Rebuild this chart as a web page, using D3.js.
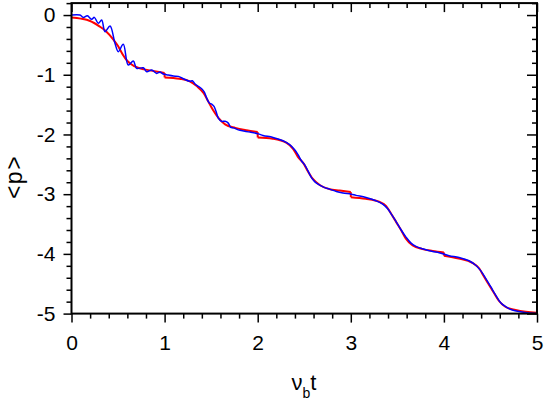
<!DOCTYPE html>
<html><head><meta charset="utf-8">
<script src="https://cdn.jsdelivr.net/npm/d3@7"></script>
<style>body{margin:0;background:#fff}svg{display:block}text{font-family:"Liberation Sans",Arial,Helvetica,sans-serif}</style>
</head><body>
<svg id="c" width="545" height="403"></svg>
<script>
// ---- data ----
const redT = [0.0,0.1,0.2,0.3,0.37,0.45,0.5,0.55,0.6,0.68,0.78,0.89,1.0,
  1.0,1.16,1.27,1.345,1.42,1.47,1.52,1.58,1.65,1.76,1.88,2.0,
  2.0,2.16,2.31,2.38,2.43,2.49,2.54,2.59,2.67,2.77,2.88,3.0,
  3.0,3.16,3.31,3.38,3.43,3.485,3.54,3.59,3.665,3.77,3.88,4.0,
  4.0,4.16,4.305,4.38,4.43,4.485,4.54,4.59,4.66,4.77,4.88,5.0];
const redP = [-0.04,-0.06,-0.10,-0.19,-0.27,-0.41,-0.52,-0.66,-0.77,-0.86,-0.91,-0.94,-0.97,
  -1.045,-1.067,-1.11,-1.19,-1.31,-1.45,-1.59,-1.725,-1.83,-1.89,-1.93,-1.96,
  -2.05,-2.07,-2.14,-2.24,-2.37,-2.48,-2.62,-2.74,-2.85,-2.915,-2.94,-2.965,
  -3.05,-3.077,-3.13,-3.2,-3.32,-3.46,-3.6,-3.74,-3.86,-3.92,-3.95,-3.975,
  -4.03,-4.077,-4.15,-4.245,-4.38,-4.52,-4.66,-4.785,-4.885,-4.94,-4.97,-4.985];
const blueT = [0.0,0.09,0.127,0.17,0.217,0.245,0.288,0.324,0.36,0.414,0.467,0.503,0.556,0.61,0.664,0.70,0.771,0.808,0.861,0.915,0.95,0.986,
  1.022,1.094,1.147,1.201,1.273,1.298,1.327,1.362,1.398,1.427,1.452,1.48,1.506,1.531,1.552,1.577,1.613,1.649,1.684,1.71,1.738,1.81,1.917,
  2.006,2.057,2.164,2.272,2.343,2.397,2.433,2.469,2.505,2.54,2.576,2.612,2.666,2.72,2.773,2.845,2.916,
  3.005,3.056,3.163,3.27,3.343,3.396,3.45,3.485,3.539,3.593,3.647,3.70,3.772,3.88,3.948,
  4.055,4.162,4.27,4.342,4.395,4.449,4.503,4.556,4.61,4.664,4.735,4.825,4.914,5.0];
const blueP = [0.0,0.0,-0.039,-0.012,-0.072,-0.039,-0.139,-0.084,-0.28,-0.184,-0.474,-0.614,-0.49,-0.838,-0.77,-0.893,-0.883,-0.95,-0.921,-0.977,-0.955,-0.988,
  -1.0,-1.022,-1.027,-1.067,-1.11,-1.10,-1.156,-1.195,-1.234,-1.29,-1.39,-1.474,-1.49,-1.53,-1.613,-1.725,-1.78,-1.78,-1.81,-1.88,-1.89,-1.93,-1.96,
  -1.99,-2.016,-2.05,-2.105,-2.17,-2.256,-2.34,-2.44,-2.51,-2.61,-2.72,-2.79,-2.85,-2.89,-2.915,-2.955,-2.98,
  -3.0,-3.02,-3.054,-3.11,-3.166,-3.244,-3.37,-3.455,-3.596,-3.72,-3.82,-3.875,-3.915,-3.96,-3.98,
  -4.03,-4.06,-4.115,-4.19,-4.28,-4.41,-4.55,-4.69,-4.82,-4.885,-4.94,-4.97,-4.99,-5.0];
const xMajor = [0,1,2,3,4,5];
const yMajor = [0,-1,-2,-3,-4,-5];
const xDomain = [0,5];
const yDomain = [-5,0.2];

// ---- drawing ----
const svg = d3.select("#c");
const L = 71.5, R = 537, T = 3.1, B = 313.6;
const x = d3.scaleLinear().domain(xDomain).range([L,R]);
const y = d3.scaleLinear().domain(yDomain).range([B,T]);
const xMinor = d3.range(0,5.0001,0.2).map(v=>+v.toFixed(1)).filter(v=>!xMajor.includes(v));
const yMinor = d3.range(-5,0.2001,0.2).map(v=>+v.toFixed(1)).filter(v=>!yMajor.includes(v));

function style(g, w){ g.select(".domain").remove(); g.selectAll(".tick line").attr("stroke","#000").attr("stroke-width",w); }

// data lines
const redLine = d3.line().x(d=>x(d[0])).y(d=>y(d[1])).curve(d3.curveMonotoneX);
const blueLine = d3.line().x(d=>x(d[0])).y(d=>y(d[1])).curve(d3.curveCatmullRom.alpha(0.5));
const redPts = redT.map((t,i)=>[t,redP[i]]);
const segs = []; let cur = [];
redPts.forEach((p,i)=>{ if(i>0 && p[0]===redPts[i-1][0]){ segs.push(cur); cur=[]; } cur.push(p); });
segs.push(cur);
segs.forEach((s,i)=>{
  svg.append("path").attr("d",redLine(s)).attr("fill","none").attr("stroke","#ff0000").attr("stroke-width",2);
  if(i>0){ const a=segs[i-1][segs[i-1].length-1], b=s[0];
    svg.append("line").attr("x1",x(a[0])).attr("x2",x(b[0])).attr("y1",y(a[1])).attr("y2",y(b[1])).attr("stroke","#ff0000").attr("stroke-width",2); }
});
svg.append("path").attr("d",blueLine(blueT.map((t,i)=>[t,blueP[i]]))).attr("fill","none").attr("stroke","#0000ff").attr("stroke-width",1.5);

// axes
const gb = svg.append("g").attr("transform",`translate(0,${B})`);
gb.append("g").call(d3.axisBottom(x).tickValues(xMinor).tickSize(5).tickFormat("")).call(g=>style(g,1.5));
gb.append("g").call(d3.axisBottom(x).tickValues(xMajor).tickSize(9).tickPadding(12).tickFormat(d=>String(d))).call(g=>style(g,1.5))
  .selectAll("text").attr("font-size",21).attr("fill","#000").attr("dy","0.71em");
const gt = svg.append("g").attr("transform",`translate(0,${T})`);
gt.append("g").call(d3.axisTop(x).tickValues(xMinor).tickSize(-5).tickFormat("")).call(g=>style(g,1.5));
gt.append("g").call(d3.axisTop(x).tickValues(xMajor).tickSize(-9).tickFormat("")).call(g=>style(g,1.5));
const gl = svg.append("g").attr("transform",`translate(${L},0)`);
gl.append("g").call(d3.axisLeft(y).tickValues(yMinor).tickSize(5).tickFormat("")).call(g=>style(g,1.5));
gl.append("g").call(d3.axisLeft(y).tickValues(yMajor).tickSize(8).tickPadding(8).tickFormat(d=>String(d))).call(g=>style(g,1.5))
  .selectAll("text").attr("font-size",21).attr("fill","#000");
const gr = svg.append("g").attr("transform",`translate(${R},0)`);
gr.append("g").call(d3.axisRight(y).tickValues(yMinor).tickSize(-5).tickFormat("")).call(g=>style(g,1.5));
gr.append("g").call(d3.axisRight(y).tickValues(yMajor).tickSize(-10).tickFormat("")).call(g=>style(g,1.5));

// frame
svg.append("rect").attr("x",L).attr("y",T).attr("width",R-L).attr("height",B-T)
  .attr("fill","none").attr("stroke","#000").attr("stroke-width",2);

// axis titles
const xt = svg.append("text").attr("x",304).attr("y",390).attr("text-anchor","middle").attr("font-size",22).attr("fill","#000");
xt.append("tspan").text("ν");
xt.append("tspan").attr("font-size",14).attr("dy",8).text("b");
xt.append("tspan").attr("dy",-8).text("t");
svg.append("text").attr("transform","translate(21.5,177) rotate(-90)").attr("text-anchor","middle")
  .attr("font-size",23).attr("letter-spacing",1.5).attr("fill","#000").text("<p>");
</script>
</body></html>
